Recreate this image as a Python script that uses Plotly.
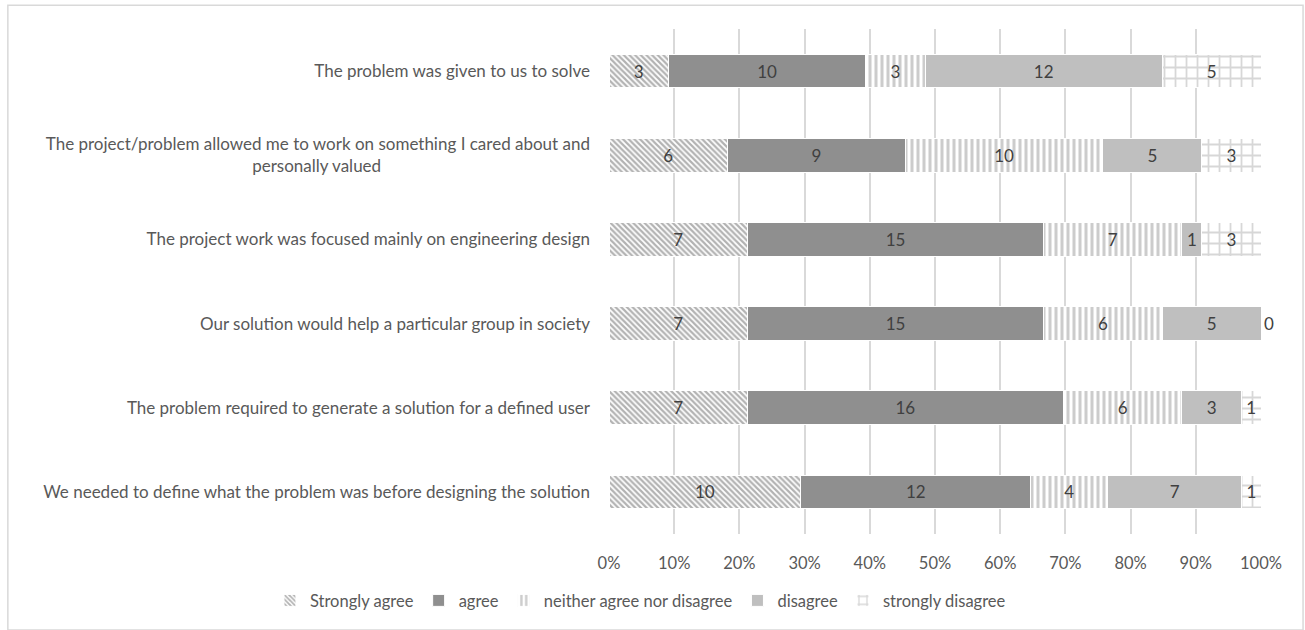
import plotly.graph_objects as go

categories = [
    "The problem was given to us to solve",
    "The project/problem allowed me to work on something I cared about and<br>personally valued",
    "The project work was focused mainly on engineering design",
    "Our solution would help a particular group in society",
    "The problem required to generate a solution for a defined user",
    "We needed to define what the problem was before designing the solution",
]
series_names = ["Strongly agree", "agree", "neither agree nor disagree", "disagree", "strongly disagree"]
strongly_agree = [3, 6, 7, 7, 7, 10]
agree = [10, 9, 15, 15, 16, 12]
neither = [3, 10, 7, 6, 6, 4]
disagree = [12, 5, 1, 5, 3, 7]
strongly_disagree = [5, 3, 3, 0, 1, 1]
x_ticks = [0, 10, 20, 30, 40, 50, 60, 70, 80, 90, 100]
x_tick_labels = [f"{t}%" for t in x_ticks]

# center the wrapped second line under the first (labels are right-aligned)
def fmt_label(c):
    if "<br>" in c:
        a, b = c.split("<br>")
        return a + "<br>" + b + "\u00a0" * 48
    return c

labels = [fmt_label(c) for c in categories]

styles = [
    dict(color="white", pattern=dict(shape="\\", fgcolor="#666666", bgcolor="white", size=4, solidity=0.55)),
    dict(color="#8f8f8f"),
    dict(color="white", pattern=dict(shape="|", fgcolor="#999999", bgcolor="white", size=6, solidity=0.5)),
    dict(color="#bfbfbf"),
    dict(color="white", pattern=dict(shape="+", fgcolor="#b0b0b0", bgcolor="white", size=11, solidity=0.3)),
]
all_values = [strongly_agree, agree, neither, disagree, strongly_disagree]

FONT = "Lato"

fig = go.Figure()
for name, vals, st in zip(series_names, all_values, styles):
    marker = dict(st)
    marker["line"] = dict(color="white", width=1)
    fig.add_trace(go.Bar(
        y=labels, x=vals, name=name, orientation="h",
        marker=marker,
        text=[str(v) for v in vals],
        textposition=["outside" if v == 0 else "inside" for v in vals],
        insidetextanchor="middle",
        textangle=0,
        textfont=dict(color="#404040", size=17, family=FONT),
        cliponaxis=False,
    ))

fig.update_layout(
    barmode="stack",
    barnorm="percent",
    bargap=0.6,
    width=1305, height=630,
    margin=dict(l=609, r=44, t=29, b=93),
    paper_bgcolor="white",
    plot_bgcolor="white",
    font=dict(family=FONT, size=17, color="#595959"),
    xaxis=dict(
        range=[0, 100], tickvals=x_ticks, ticktext=x_tick_labels,
        showgrid=True, gridcolor="#d9d9d9", gridwidth=1.5,
        zeroline=False, showline=False, ticks="",
        ticklabelstandoff=17,
        tickfont=dict(size=16.5, color="#595959"),
    ),
    yaxis=dict(
        categoryorder="array", categoryarray=labels[::-1],
        showgrid=False, zeroline=False, showline=False, ticks="",
        ticklabelstandoff=18,
        tickfont=dict(size=17, color="#595959"),
    ),
    legend=dict(
        orientation="h", x=-0.52, xanchor="left", y=-0.132, yanchor="middle",
        font=dict(size=16.5, color="#595959"), itemwidth=30,
        traceorder="normal",
    ),
    showlegend=True,
    shapes=[dict(type="rect", xref="paper", yref="paper",
                 x0=-0.922, x1=1.0645, y0=-0.19, y1=1.047,
                 line=dict(color="#d9d9d9", width=1.5), fillcolor="rgba(0,0,0,0)", layer="below")],
)

fig.write_html("out.html")
